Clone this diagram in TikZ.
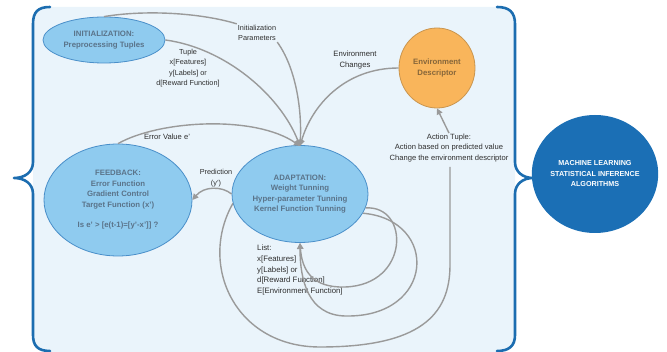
\documentclass[tikz,border=0pt]{standalone}
\usepackage{fontspec}
\setmainfont{Liberation Sans}
\usetikzlibrary{shapes.geometric,arrows.meta}
\definecolor{bgblue}{HTML}{EAF4FB}
\definecolor{bracecol}{HTML}{1C6DB0}
\definecolor{nodefill}{HTML}{8FCBEF}
\definecolor{nodeedge}{HTML}{4A8FC9}
\definecolor{nodetext}{HTML}{5A7389}
\definecolor{envfill}{HTML}{F9B55B}
\definecolor{envedge}{HTML}{C9954F}
\definecolor{envtext}{HTML}{86663A}
\definecolor{mlfill}{HTML}{1B6FB5}
\definecolor{linkcol}{HTML}{9A9A9A}
\definecolor{labelcol}{HTML}{2E2E2E}
\begin{document}
\begin{tikzpicture}[x=1pt,y=-1pt,
  stage/.style={ellipse,draw=nodeedge,fill=nodefill,line width=0.8pt,inner sep=0pt,
    text=nodetext,align=center,font=\fontsize{7.8}{10.5}\selectfont\bfseries},
  envnode/.style={ellipse,draw=envedge,fill=envfill,line width=0.8pt,inner sep=0pt,
    text=envtext,align=center,font=\fontsize{7.8}{10.5}\selectfont\bfseries},
  mlnode/.style={ellipse,fill=mlfill,inner sep=0pt,text=white,align=center,
    font=\fontsize{7.2}{10.5}\selectfont\bfseries},
  lbl/.style={text=labelcol,align=center,inner sep=1pt,font=\fontsize{7.3}{10.5}\selectfont},
  link/.style={draw=linkcol,line width=1.4pt},
  tip/.style={-{Triangle[length=6pt,width=6pt]}},
  bracket/.style={draw=bracecol,line width=2.6pt,line cap=round,line join=round}
]
\useasboundingbox (0,0) rectangle (667,352);

% light panel behind the cycle
\fill[bgblue,rounded corners=16pt] (33,7) rectangle (515,352);

% curly brackets around the panel
\path[bracket] (50,7) .. controls (38,7) and (33,12) .. (33,24) -- (33,162)
  .. controls (33,172) and (25,178) .. (14,178)
  .. controls (25,178) and (33,184) .. (33,194) -- (33,335)
  .. controls (33,346) and (38,351) .. (50,351);
\path[bracket] (497,7) .. controls (509,7) and (515,12) .. (515,24) -- (515,162)
  .. controls (515,172) and (523,178) .. (533,178)
  .. controls (523,178) and (515,184) .. (515,194) -- (515,335)
  .. controls (515,346) and (509,351) .. (497,351);

% stages
\node[stage,minimum width=122pt,minimum height=46pt] (init) at (104,40)
  {INITIALIZATION:\\Preprocessing Tuples};
\node[stage,minimum width=148pt,minimum height=112pt] (feed) at (118,200)
  {FEEDBACK:\\Error Function\\Gradient Control\\Target Function (x')\\[10pt]Is e' > [e(t-1)=[y'-x']] ?};
\node[stage,minimum width=136pt,minimum height=97pt] (adapt) at (300,194)
  {ADAPTATION:\\Weight Tunning\\Hyper-parameter Tunning\\Kernel Function Tunning};
\node[envnode,minimum width=76pt,minimum height=80pt] (env) at (437,68)
  {Environment\\Descriptor};
\node[mlnode,minimum width=114pt,minimum height=118pt] (ml) at (595,174)
  {MACHINE LEARNING\\STATISTICAL INFERENCE\\ALGORITHMS};

% connector labels
\node[lbl] (lparam) at (257,33) {Initialization\\Parameters};
\node[lbl] (ltuple) at (188,68) {Tuple\\x[Features]\\y[Labels] or\\d[Reward Function]};
\node[lbl,font=\fontsize{7.7}{10.5}\selectfont] (lenv) at (355,60) {Environment\\Changes};
\node[lbl,font=\fontsize{7.6}{10.5}\selectfont] (lerr) at (167,137) {Error Value e'};
\node[lbl] (lpred) at (216,178) {Prediction\\(y')};
\node[lbl,font=\fontsize{7.6}{10.2}\selectfont] (lact) at (449,148)
  {Action Tuple:\\Action based on predicted value\\Change the environment descriptor};
\node[lbl,align=left,anchor=west,font=\fontsize{7.8}{10.7}\selectfont] (llist) at (256,270)
  {List:\\x[Features]\\y[Labels] or\\d[Reward Function]\\E[Environment Function]};

\coordinate (adtop) at (300,146);
\coordinate (adbot) at (300,243);

% inputs converging on the adaptation stage
\path[link] (init.north) .. controls (150,9) and (205,14) .. (lparam.north west);
\path[link,tip] (lparam.south east) .. controls (296,68) and (302,110) .. (adtop);
\path[link,tip] (init.east) .. controls (225,48) and (280,95) .. (adtop);
\path[link,tip] (env.west) .. controls (345,68) and (312,105) .. (adtop);
\path[link,tip] (feed.north) .. controls (160,120) and (255,115) .. (adtop);

% prediction back to feedback
\path[link,tip] (adapt.west) .. controls (222,186) and (204,186) .. (feed.east);

% self loops of the adaptation stage
\path[link,tip] (adapt.-12) .. controls (410,205) and (410,285) .. (345,287)
  .. controls (312,288) and (302,270) .. (adbot);
\path[link,tip] (adapt.-17) .. controls (440,220) and (435,318) .. (345,316)
  .. controls (308,315) and (300,280) .. (adbot);

% action loop towards the environment descriptor
\path[link] (adapt.188) .. controls (198,265) and (235,347) .. (320,347)
  .. controls (420,347) and (450,315) .. (450,265) -- (450,167);
\path[link,tip] (lact.north) -- (env.south);

\end{tikzpicture}
\end{document}
